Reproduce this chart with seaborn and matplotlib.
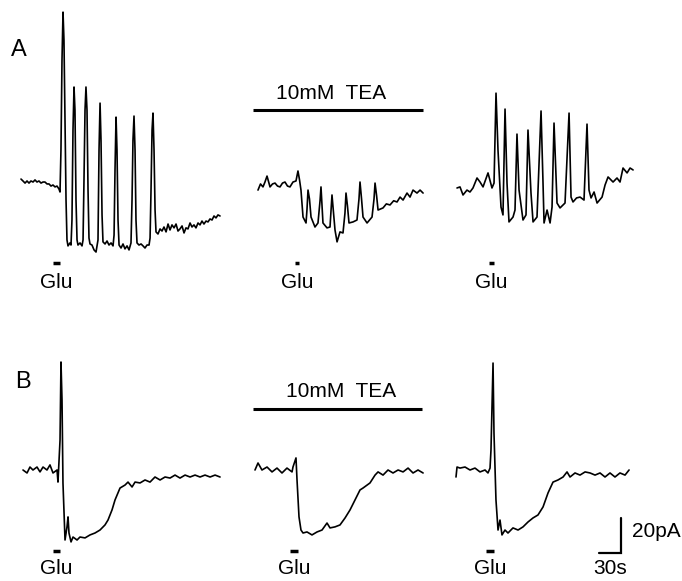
import numpy as np
import pandas as pd
import matplotlib
matplotlib.use("Agg")
import matplotlib.pyplot as plt
import seaborn as sns

# traces: time (s) from start of each sweep, current (pA) relative to holding level
# row A - repetitive Glu-evoked bursts
a_ctrl_t = [0, 2.7, 5.5, 8.2, 10.9, 13.6, 16.4, 19.1, 21.8, 24.5, 27.3, 30.0, 32.7, 35.5, 38.2,
            40.9, 43.6, 46.4, 49.1, 51.8, 53.2, 54.5, 55.9, 57.3, 58.6, 60.0, 61.4, 62.7, 64.1,
            66.8, 68.2, 69.5, 70.9, 72.3, 73.6, 75.0, 76.4, 77.7, 80.5, 83.2, 84.6, 85.9, 87.3,
            88.6, 90.0, 91.4, 92.7, 94.1, 96.8, 99.6, 102.3, 105.0, 106.4, 107.8, 109.1, 110.5,
            111.8, 114.6, 117.3, 120.0, 122.8, 125.5, 126.9, 128.2, 129.6, 130.9, 132.3, 133.7,
            136.4, 139.1, 141.8, 144.6, 147.3, 150.0, 151.4, 152.7, 154.1, 155.5, 156.8, 158.2,
            160.9, 163.7, 166.4, 169.1, 171.8, 174.6, 176.0, 177.3, 178.7, 180.0, 181.4, 182.8,
            184.1, 186.8, 189.6, 192.3, 195.0, 197.8, 200.5, 203.2, 205.9, 208.7, 211.4, 214.1,
            216.8, 219.6, 222.3, 225.0, 227.7, 230.5, 233.2, 235.9, 238.6, 241.4, 244.1, 246.8,
            249.5, 252.3, 255.0, 257.7, 260.5, 263.2, 265.9, 268.6, 271.4]
a_ctrl_i = [3.4, 2.3, 1.1, 2.3, 1.1, 2.3, 1.7, 2.9, 1.7, 2.3, 1.1, 1.7, 1.7, 0.6, 0.6,
            -0.6, 0, -1.1, -0.6, -2.3, -4.0, 20.0, 71.4, 98.8, 82.8, 37.1, -8.6, -31.4, -34.8,
            -33.1, -34.3, -20.0, 31.4, 56.0, 42.8, -8.6, -31.4, -34.3, -33.1, -34.8, -31.4, 2.9, 42.8,
            56.0, 42.8, -2.9, -30.3, -33.7, -34.3, -37.1, -38.3, -31.4, 20.0, 46.8, 25.7, -17.1,
            -32.5, -33.7, -32.0, -34.3, -33.1, -34.8, -28.6, 8.6, 38.8, 20.0, -20.0, -34.3,
            -36.0, -33.7, -36.5, -34.8, -37.1, -33.1, -8.6, 25.7, 39.4, 20.0, -20.0, -33.1,
            -34.3, -33.7, -34.8, -36.0, -34.3, -34.3, -30.3, -2.9, 31.4, 41.1, 20.0, -14.3,
            -26.8, -28.0, -25.1, -26.3, -24.0, -26.8, -22.3, -25.7, -22.8, -24.5, -22.3, -26.3,
            -25.1, -23.4, -27.4, -24.5, -25.1, -21.7, -24.0, -22.8, -24.5, -21.7, -22.8, -20.6,
            -22.3, -20.6, -21.1, -19.4, -20.0, -17.7, -18.8, -17.1, -17.7]

a_tea_t = [0, 3.4, 6.8, 9.5, 12.3, 16.4, 19.8, 23.2, 26.6, 30.0, 33.4, 36.8, 40.2, 43.6, 47.7,
           51.8, 54.5, 56.6, 58.6, 61.4, 65.5, 66.8, 68.2, 70.2, 72.3, 77.7, 81.8, 84.6, 85.9,
           88.6, 94.1, 98.2, 100.9, 103.0, 105.0, 107.8, 111.8, 115.9, 118.6, 120.0, 122.0,
           124.1, 129.6, 135.0, 137.7, 139.1, 141.2, 143.2, 148.7, 155.5, 158.2, 159.6, 161.7,
           163.7, 170.5, 175.0, 180.0, 185.0, 189.6, 193.7, 197.8, 203.2, 207.3, 211.4, 216.8,
           221.0, 225.1]
a_tea_i = [-2.9, 0.6, -1.1, 1.7, 5.1, -1.1, 0.6, 1.1, -0.6, -1.1, 1.1, 1.7, -0.6, -1.1, 1.7,
           2.3, 8.0, 3.0, -2.9, -18.3, -21.7, -14.0, -2.9, -8.0, -18.3, -24.0, -21.7, -9.0, -1.1,
           -21.7, -24.5, -24.0, -5.7, -16.0, -25.7, -32.5, -26.8, -27.4, -16.0, -4.6, -12.0,
           -21.7, -21.1, -20.0, -8.0, 1.7, -8.0, -18.3, -21.7, -18.3, -8.0, 1.1, -6.0,
           -14.3, -13.1, -10.8, -11.4, -9.0, -9.7, -6.9, -8.6, -4.6, -6.9, -2.9, -4.6,
           -2.9, -4.6]

a_wash_t = [0, 4.1, 8.2, 13.6, 17.7, 21.8, 27.3, 31.4, 35.5, 42.3, 47.7, 50.5, 53.2, 55.9,
            60.0, 62.7, 65.5, 68.2, 70.9, 76.4, 79.1, 81.8, 84.6, 90.0, 94.1, 96.8, 100.9,
            103.7, 109.1, 114.6, 117.3, 118.7, 122.8, 126.9, 129.6, 132.3, 136.4, 140.5, 147.3,
            152.8, 155.5, 158.2, 163.0, 167.8, 173.2, 177.3, 180.0, 182.8, 186.9, 191.0, 197.8,
            201.9, 206.0, 212.8, 218.2, 222.3, 226.4, 231.9, 236.0, 240.1]
a_wash_i = [-1.7, -1.1, -5.7, -2.9, -4.0, -1.7, 4.0, 1.7, -1.1, 6.9, -1.7, 1.1, 52.5, 20.0,
            -12.6, -17.1, 43.4, 1.1, -21.1, -18.3, -14.3, 29.1, -2.9, -20.0, -17.1, 31.4, -4.6,
            -21.1, -18.3, 42.3, 1.1, -21.7, -14.3, -21.7, -12.6, 35.4, -10.3, -13.1, -10.3,
            41.1, -6.9, -9.7, -7.4, -6.9, -8.6, 34.8, -2.9, -7.4, -4.0, -10.3, -6.9,
            0, 4.6, 1.7, 4.0, 1.7, 9.7, 6.9, 9.7, 8.6]

# row B - single Glu-evoked response
b_ctrl_t = [0, 5.5, 9.5, 13.6, 19.1, 23.2, 27.3, 32.7, 36.8, 40.9, 46.4, 47.7, 50.5, 51.8,
            53.2, 54.5, 57.3, 60.0, 61.4, 62.7, 65.5, 68.2, 73.7, 77.7, 84.6, 91.4, 98.2, 105.0,
            111.8, 115.9, 121.4, 125.5, 132.3, 139.1, 143.2, 148.7, 152.8, 159.6, 166.4, 173.2,
            180.0, 186.9, 193.7, 200.5, 207.3, 214.1, 221.0, 227.8, 234.6, 241.4, 248.2, 255.1,
            261.9, 268.7]
b_ctrl_i = [0, -1.7, 1.7, 0, 1.7, -1.1, 1.7, 0, 2.9, -1.7, 0, -6.9, 17.1, 61.7,
            40.0, -7.4, -40.0, -32.5, -26.8, -36.0, -41.1, -38.3, -40.0, -38.3, -38.8, -37.1,
            -36.0, -34.3, -31.4, -28.6, -22.8, -17.1, -10.3, -8.6, -6.9, -9.7, -6.9, -7.4,
            -5.7, -6.9, -4.0, -5.7, -4.0, -4.6, -2.9, -4.6, -2.9, -4.0, -2.9, -4.0, -2.9,
            -4.0, -2.9, -4.0]

b_tea_t = [0, 4.1, 9.5, 16.4, 23.2, 30.0, 36.8, 43.6, 50.5, 51.8, 55.9, 57.3, 60.0, 62.7,
           65.5, 70.9, 77.7, 84.6, 91.4, 98.2, 102.3, 109.1, 115.9, 122.8, 129.6, 136.4, 143.2,
           147.3, 156.8, 163.7, 167.8, 174.6, 181.4, 188.2, 195.1, 201.9, 208.7, 215.5, 222.3,
           229.2]
b_tea_i = [0, 4.0, 0, 1.7, -1.1, 1.1, -1.7, 1.1, -1.1, 1.7, 6.9, -5.7, -26.8, -34.3,
           -36.0, -35.4, -37.1, -35.4, -34.3, -30.3, -33.1, -32.5, -31.4, -27.4, -22.8, -17.1,
           -11.4, -10.3, -7.4, -2.9, -1.1, -2.9, 0, -1.7, 0, -1.1, 1.1, -1.7, 0, -1.7]

b_wash_t = [0, 1.4, 5.5, 12.3, 19.1, 25.9, 32.7, 39.6, 43.6, 46.4, 47.7, 50.5, 51.8, 54.5,
            57.3, 60.0, 62.7, 66.8, 70.9, 77.7, 84.6, 91.4, 98.2, 105.0, 111.8, 118.7, 125.5,
            132.3, 139.1, 146.0, 151.4, 155.5, 162.3, 169.1, 176.0, 182.8, 189.6, 196.4, 203.2,
            210.0, 216.8, 223.6, 230.5, 236.0]
b_wash_i = [-4.0, 1.7, 1.1, 1.7, 0, 1.1, -1.1, 0, -1.7, 1.1, 11.4, 61.1, 21.1, -17.1,
            -34.3, -28.6, -37.1, -34.3, -36.0, -33.1, -34.3, -32.5, -29.7, -27.4, -25.7, -21.1,
            -13.1, -6.9, -5.7, -4.0, -1.1, -4.0, -1.7, -2.9, -1.1, -1.7, -2.9, -1.7, -4.0,
            -1.7, -4.0, -1.7, -2.9, 0]

# Glu puff on/off (s) for each sweep, TEA application window (s)
glu_on_a = [44, 50, 44]
glu_off_a = [53, 56, 50]
glu_on_b = [41, 48, 41]
glu_off_b = [51, 59, 52]
tea_window_a = (-6.8, 225)
tea_window_b = (-2.7, 228)
tea_label = "10mM  TEA"

# scale bar
scale_t, scale_i = 30, 20

W, H = 682, 581
S_PER_PX = 30 / 22
PA_PER_PX = 20 / 35

sns.set_theme(style="white")
plt.rcParams["font.family"] = ["Liberation Sans", "DejaVu Sans"]
plt.rcParams["text.color"] = "black"

fig = plt.figure(figsize=(W / 100, H / 100), dpi=100)

col_left = [8, 240, 440]
col_width = [225, 200, 242]
rows = {
    "A": dict(top=0, bottom=295, base=185, start=[21, 258, 457], label_y=50,
              traces=[(a_ctrl_t, a_ctrl_i), (a_tea_t, a_tea_i), (a_wash_t, a_wash_i)],
              glu_on=glu_on_a, glu_off=glu_off_a, tea=tea_window_a, tea_y=42.9,
              tea_txt=(99.6, 52.5), glu_y=-44.6, glu_txt=-55.5),
    "B": dict(top=295, bottom=581, base=470, start=[23, 255, 456], label_y=382,
              traces=[(b_ctrl_t, b_ctrl_i), (b_tea_t, b_tea_i), (b_wash_t, b_wash_i)],
              glu_on=glu_on_b, glu_off=glu_off_b, tea=tea_window_b, tea_y=34.9,
              tea_txt=(117.3, 45.0), glu_y=-46.3, glu_txt=-56.3),
}

for label, r in rows.items():
    for c in range(3):
        left, width = col_left[c], col_width[c]
        x0 = r["start"][c]
        ax = fig.add_axes([left / W, 1 - r["bottom"] / H, width / W, (r["bottom"] - r["top"]) / H])
        ax.set_xlim(-(x0 - left) * S_PER_PX, (left + width - x0) * S_PER_PX)
        ax.set_ylim(-(r["bottom"] - r["base"]) * PA_PER_PX, (r["base"] - r["top"]) * PA_PER_PX)
        ax.axis("off")

        t, i = r["traces"][c]
        df = pd.DataFrame({"t": t, "i": i})
        sns.lineplot(data=df, x="t", y="i", ax=ax, color="black", lw=1.2,
                     sort=False, estimator=None)

        # Glu application
        on, off = r["glu_on"][c], r["glu_off"][c]
        ax.plot([on, off], [r["glu_y"], r["glu_y"]], color="black", lw=2.5,
                solid_capstyle="butt")
        ax.text((on + off) / 2, r["glu_txt"], "Glu", ha="center", va="center",
                fontsize=15, clip_on=False)

        if c == 0:
            lx = 11 if label == "A" else 15
            ax.text((lx - x0) * S_PER_PX, (r["base"] - r["label_y"]) * PA_PER_PX,
                    label, ha="left", va="center", fontsize=17)
        if c == 1:
            t0, t1 = r["tea"]
            ax.plot([t0, t1], [r["tea_y"], r["tea_y"]], color="black", lw=2.2,
                    solid_capstyle="butt")
            ax.text(r["tea_txt"][0], r["tea_txt"][1], tea_label, ha="center",
                    va="center", fontsize=15)
        if label == "B" and c == 2:
            xs = 225
            ys = -47.4
            ax.plot([xs - scale_t, xs, xs], [ys, ys, ys + scale_i], color="black",
                    lw=1.6, solid_joinstyle="miter")
            ax.text(xs + 15, ys + scale_i / 2 + 2, f"{scale_i}pA", ha="left",
                    va="center", fontsize=15, clip_on=False)
            ax.text(xs - scale_t / 2, -56.3, f"{scale_t}s", ha="center",
                    va="center", fontsize=15, clip_on=False)

fig.savefig("out.png", dpi=100)
